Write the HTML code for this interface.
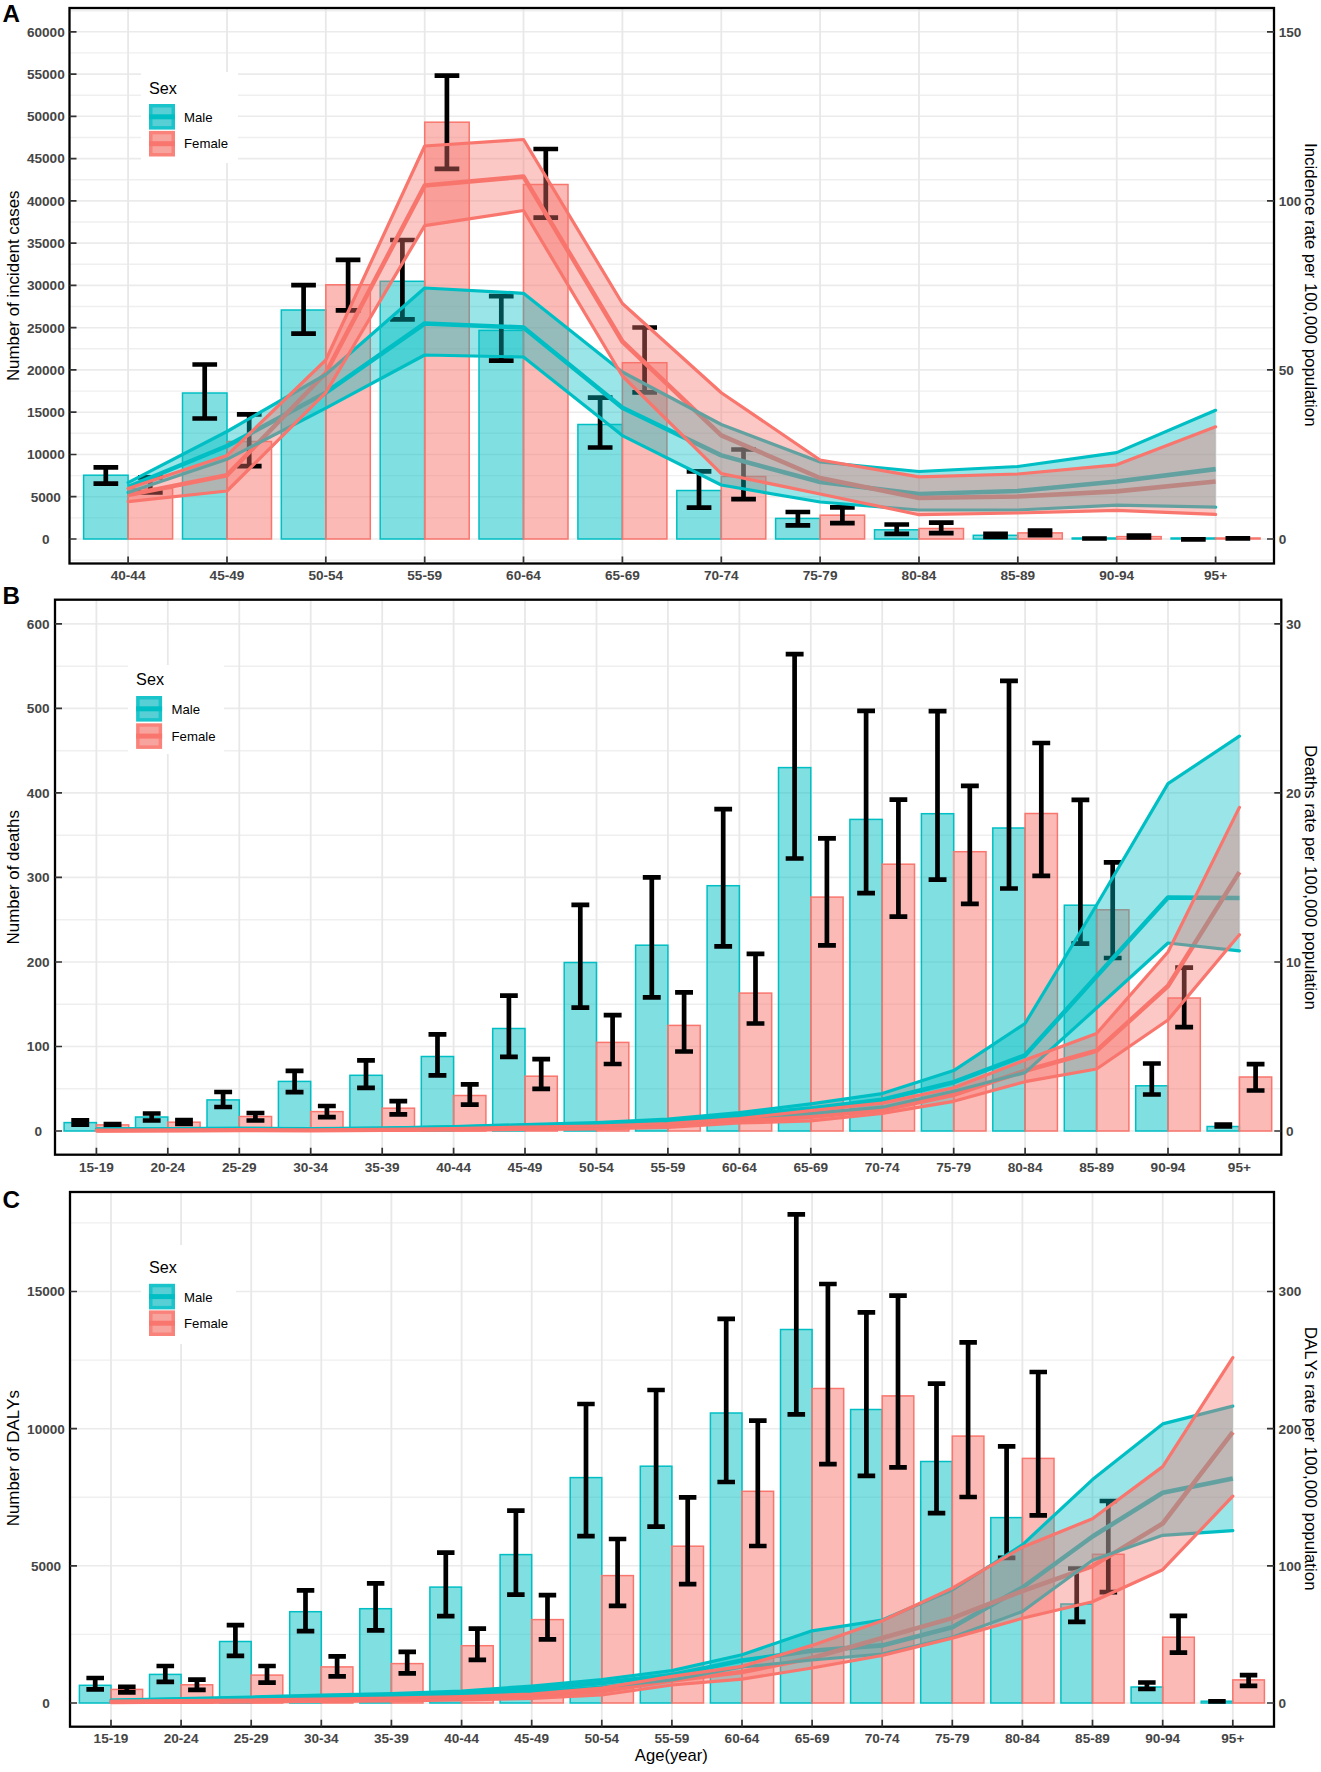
<!DOCTYPE html>
<html><head><meta charset="utf-8"><title>Figure</title>
<style>html,body{margin:0;padding:0;background:#fff;}svg{display:block;font-kerning:none;}</style></head>
<body><svg width="1321" height="1772" viewBox="0 0 1321 1772" font-family='"Liberation Sans", sans-serif'>
<rect width="1321" height="1772" fill="#fff"/>
<rect x="69.5" y="8" width="1204.5" height="555.5" fill="#fff"/>
<line x1="69.5" y1="560.1" x2="1274" y2="560.1" stroke="#efefef" stroke-width="1.4"/>
<line x1="69.5" y1="517.9" x2="1274" y2="517.9" stroke="#efefef" stroke-width="1.4"/>
<line x1="69.5" y1="475.6" x2="1274" y2="475.6" stroke="#efefef" stroke-width="1.4"/>
<line x1="69.5" y1="433.3" x2="1274" y2="433.3" stroke="#efefef" stroke-width="1.4"/>
<line x1="69.5" y1="391.1" x2="1274" y2="391.1" stroke="#efefef" stroke-width="1.4"/>
<line x1="69.5" y1="348.8" x2="1274" y2="348.8" stroke="#efefef" stroke-width="1.4"/>
<line x1="69.5" y1="306.5" x2="1274" y2="306.5" stroke="#efefef" stroke-width="1.4"/>
<line x1="69.5" y1="264.3" x2="1274" y2="264.3" stroke="#efefef" stroke-width="1.4"/>
<line x1="69.5" y1="222" x2="1274" y2="222" stroke="#efefef" stroke-width="1.4"/>
<line x1="69.5" y1="179.7" x2="1274" y2="179.7" stroke="#efefef" stroke-width="1.4"/>
<line x1="69.5" y1="137.5" x2="1274" y2="137.5" stroke="#efefef" stroke-width="1.4"/>
<line x1="69.5" y1="95.2" x2="1274" y2="95.2" stroke="#efefef" stroke-width="1.4"/>
<line x1="69.5" y1="52.9" x2="1274" y2="52.9" stroke="#efefef" stroke-width="1.4"/>
<line x1="69.5" y1="10.7" x2="1274" y2="10.7" stroke="#efefef" stroke-width="1.4"/>
<line x1="69.5" y1="539" x2="1274" y2="539" stroke="#ebebeb" stroke-width="1.6"/>
<line x1="69.5" y1="496.7" x2="1274" y2="496.7" stroke="#ebebeb" stroke-width="1.6"/>
<line x1="69.5" y1="454.5" x2="1274" y2="454.5" stroke="#ebebeb" stroke-width="1.6"/>
<line x1="69.5" y1="412.2" x2="1274" y2="412.2" stroke="#ebebeb" stroke-width="1.6"/>
<line x1="69.5" y1="369.9" x2="1274" y2="369.9" stroke="#ebebeb" stroke-width="1.6"/>
<line x1="69.5" y1="327.7" x2="1274" y2="327.7" stroke="#ebebeb" stroke-width="1.6"/>
<line x1="69.5" y1="285.4" x2="1274" y2="285.4" stroke="#ebebeb" stroke-width="1.6"/>
<line x1="69.5" y1="243.1" x2="1274" y2="243.1" stroke="#ebebeb" stroke-width="1.6"/>
<line x1="69.5" y1="200.9" x2="1274" y2="200.9" stroke="#ebebeb" stroke-width="1.6"/>
<line x1="69.5" y1="158.6" x2="1274" y2="158.6" stroke="#ebebeb" stroke-width="1.6"/>
<line x1="69.5" y1="116.3" x2="1274" y2="116.3" stroke="#ebebeb" stroke-width="1.6"/>
<line x1="69.5" y1="74.1" x2="1274" y2="74.1" stroke="#ebebeb" stroke-width="1.6"/>
<line x1="69.5" y1="31.8" x2="1274" y2="31.8" stroke="#ebebeb" stroke-width="1.6"/>
<line x1="128.1" y1="8" x2="128.1" y2="563.5" stroke="#e8e8e8" stroke-width="1.8"/>
<line x1="227" y1="8" x2="227" y2="563.5" stroke="#e8e8e8" stroke-width="1.8"/>
<line x1="325.8" y1="8" x2="325.8" y2="563.5" stroke="#e8e8e8" stroke-width="1.8"/>
<line x1="424.7" y1="8" x2="424.7" y2="563.5" stroke="#e8e8e8" stroke-width="1.8"/>
<line x1="523.5" y1="8" x2="523.5" y2="563.5" stroke="#e8e8e8" stroke-width="1.8"/>
<line x1="622.4" y1="8" x2="622.4" y2="563.5" stroke="#e8e8e8" stroke-width="1.8"/>
<line x1="721.3" y1="8" x2="721.3" y2="563.5" stroke="#e8e8e8" stroke-width="1.8"/>
<line x1="820.1" y1="8" x2="820.1" y2="563.5" stroke="#e8e8e8" stroke-width="1.8"/>
<line x1="919" y1="8" x2="919" y2="563.5" stroke="#e8e8e8" stroke-width="1.8"/>
<line x1="1017.8" y1="8" x2="1017.8" y2="563.5" stroke="#e8e8e8" stroke-width="1.8"/>
<line x1="1116.7" y1="8" x2="1116.7" y2="563.5" stroke="#e8e8e8" stroke-width="1.8"/>
<line x1="1215.6" y1="8" x2="1215.6" y2="563.5" stroke="#e8e8e8" stroke-width="1.8"/>
<rect x="83.6" y="475.2" width="44.5" height="63.8" fill="#00BFC4" fill-opacity="0.5" stroke="#00BFC4" stroke-width="1.5"/>
<rect x="128.1" y="488.5" width="44.5" height="50.5" fill="#F8766D" fill-opacity="0.5" stroke="#F8766D" stroke-width="1.5"/>
<rect x="182.5" y="393" width="44.5" height="146" fill="#00BFC4" fill-opacity="0.5" stroke="#00BFC4" stroke-width="1.5"/>
<rect x="227" y="441.5" width="44.5" height="97.5" fill="#F8766D" fill-opacity="0.5" stroke="#F8766D" stroke-width="1.5"/>
<rect x="281.3" y="310" width="44.5" height="229" fill="#00BFC4" fill-opacity="0.5" stroke="#00BFC4" stroke-width="1.5"/>
<rect x="325.8" y="284.8" width="44.5" height="254.2" fill="#F8766D" fill-opacity="0.5" stroke="#F8766D" stroke-width="1.5"/>
<rect x="380.2" y="281.3" width="44.5" height="257.7" fill="#00BFC4" fill-opacity="0.5" stroke="#00BFC4" stroke-width="1.5"/>
<rect x="424.7" y="122.2" width="44.5" height="416.8" fill="#F8766D" fill-opacity="0.5" stroke="#F8766D" stroke-width="1.5"/>
<rect x="479" y="330.4" width="44.5" height="208.6" fill="#00BFC4" fill-opacity="0.5" stroke="#00BFC4" stroke-width="1.5"/>
<rect x="523.5" y="184.5" width="44.5" height="354.5" fill="#F8766D" fill-opacity="0.5" stroke="#F8766D" stroke-width="1.5"/>
<rect x="577.9" y="424.5" width="44.5" height="114.5" fill="#00BFC4" fill-opacity="0.5" stroke="#00BFC4" stroke-width="1.5"/>
<rect x="622.4" y="362.7" width="44.5" height="176.3" fill="#F8766D" fill-opacity="0.5" stroke="#F8766D" stroke-width="1.5"/>
<rect x="676.8" y="490.5" width="44.5" height="48.5" fill="#00BFC4" fill-opacity="0.5" stroke="#00BFC4" stroke-width="1.5"/>
<rect x="721.3" y="476.5" width="44.5" height="62.5" fill="#F8766D" fill-opacity="0.5" stroke="#F8766D" stroke-width="1.5"/>
<rect x="775.6" y="518.4" width="44.5" height="20.6" fill="#00BFC4" fill-opacity="0.5" stroke="#00BFC4" stroke-width="1.5"/>
<rect x="820.1" y="515.2" width="44.5" height="23.8" fill="#F8766D" fill-opacity="0.5" stroke="#F8766D" stroke-width="1.5"/>
<rect x="874.5" y="529.8" width="44.5" height="9.2" fill="#00BFC4" fill-opacity="0.5" stroke="#00BFC4" stroke-width="1.5"/>
<rect x="919" y="528.5" width="44.5" height="10.5" fill="#F8766D" fill-opacity="0.5" stroke="#F8766D" stroke-width="1.5"/>
<rect x="973.3" y="535.3" width="44.5" height="3.7" fill="#00BFC4" fill-opacity="0.5" stroke="#00BFC4" stroke-width="1.5"/>
<rect x="1017.8" y="532.9" width="44.5" height="6.1" fill="#F8766D" fill-opacity="0.5" stroke="#F8766D" stroke-width="1.5"/>
<rect x="1072.2" y="538" width="44.5" height="1" fill="#00BFC4" fill-opacity="0.5" stroke="#00BFC4" stroke-width="1.5"/>
<rect x="1116.7" y="536.6" width="44.5" height="2.4" fill="#F8766D" fill-opacity="0.5" stroke="#F8766D" stroke-width="1.5"/>
<rect x="1171.1" y="538" width="44.5" height="1" fill="#00BFC4" fill-opacity="0.5" stroke="#00BFC4" stroke-width="1.5"/>
<rect x="1215.6" y="538" width="44.5" height="1" fill="#F8766D" fill-opacity="0.5" stroke="#F8766D" stroke-width="1.5"/>
<path d="M105.8 467.3V483.7M93.5 467.3H118.2M93.5 483.7H118.2M150.3 477.3V492.5M138 477.3H162.7M138 492.5H162.7M204.7 364.5V418.5M192.4 364.5H217.1M192.4 418.5H217.1M249.2 414.3V466.2M236.9 414.3H261.6M236.9 466.2H261.6M303.6 285.2V333.6M291.2 285.2H315.9M291.2 333.6H315.9M348.1 259.8V310.4M335.7 259.8H360.4M335.7 310.4H360.4M402.4 240V319.4M390.1 240H414.8M390.1 319.4H414.8M446.9 75.6V168.8M434.6 75.6H459.3M434.6 168.8H459.3M501.3 296.2V360.6M488.9 296.2H513.6M488.9 360.6H513.6M545.8 149V217.7M533.4 149H558.1M533.4 217.7H558.1M600.1 397.7V447.5M587.8 397.7H612.5M587.8 447.5H612.5M644.6 327.5V392.4M632.3 327.5H657M632.3 392.4H657M699 471.4V507.7M686.7 471.4H711.4M686.7 507.7H711.4M743.5 449.5V499.2M731.2 449.5H755.9M731.2 499.2H755.9M797.9 512V525.3M785.5 512H810.2M785.5 525.3H810.2M842.4 507.3V523.2M830 507.3H854.7M830 523.2H854.7M896.7 524.5V533.8M884.4 524.5H909.1M884.4 533.8H909.1M941.2 522.6V533.2M928.9 522.6H953.6M928.9 533.2H953.6M995.6 533.9V537M983.2 533.9H1007.9M983.2 537H1007.9M1040.1 530.5V535.2M1027.7 530.5H1052.4M1027.7 535.2H1052.4M1094.5 538.5V538.5M1082.1 538.5H1106.8M1082.1 538.5H1106.8M1139 535.5V537.5M1126.6 535.5H1151.3M1126.6 537.5H1151.3M1193.3 539.3V539.3M1181 539.3H1205.7M1181 539.3H1205.7M1237.8 538.3V538.3M1225.5 538.3H1250.2M1225.5 538.3H1250.2" stroke="#000" stroke-width="4.7" fill="none"/>
<polyline points="128.1,487 227,446 325.8,392.7 424.7,323.5 523.5,327.5 622.4,407.8 721.3,455.4 820.1,482 919,494 1017.8,491 1116.7,481.5 1215.6,469.1" fill="none" stroke="#00BFC4" stroke-width="4.6" stroke-linejoin="round"/>
<polyline points="128.1,495 227,475.2 325.8,373 424.7,185.5 523.5,176.6 622.4,341.5 721.3,435.4 820.1,478 919,498 1017.8,496.5 1116.7,491.4 1215.6,481.5" fill="none" stroke="#F8766D" stroke-width="4.6" stroke-linejoin="round"/>
<polygon points="128.1,482.6 227,431.5 325.8,374.5 424.7,288 523.5,293.3 622.4,372 721.3,424.5 820.1,462 919,471.5 1017.8,466.5 1116.7,452.6 1215.6,410.3 1215.6,507.1 1116.7,505.1 1017.8,510 919,510 820.1,502 721.3,485 622.4,435.6 523.5,357 424.7,355 325.8,408.2 227,459.3 128.1,492.5" fill="#00BFC4" fill-opacity="0.4" stroke="none"/>
<polyline points="128.1,482.6 227,431.5 325.8,374.5 424.7,288 523.5,293.3 622.4,372 721.3,424.5 820.1,462 919,471.5 1017.8,466.5 1116.7,452.6 1215.6,410.3" fill="none" stroke="#00BFC4" stroke-width="3.2" stroke-linejoin="round" stroke-linecap="round"/>
<polyline points="128.1,492.5 227,459.3 325.8,408.2 424.7,355 523.5,357 622.4,435.6 721.3,485 820.1,502 919,510 1017.8,510 1116.7,505.1 1215.6,507.1" fill="none" stroke="#00BFC4" stroke-width="3.2" stroke-linejoin="round" stroke-linecap="round"/>
<polygon points="128.1,488.5 227,455.4 325.8,360 424.7,146 523.5,139.5 622.4,303.5 721.3,392.7 820.1,460 919,476.8 1017.8,474 1116.7,464.8 1215.6,426.8 1215.6,514.4 1116.7,510.4 1017.8,513 919,514.7 820.1,494 721.3,473.6 622.4,376 523.5,210.5 424.7,225.6 325.8,392.7 227,491 128.1,501.7" fill="#F8766D" fill-opacity="0.4" stroke="none"/>
<polyline points="128.1,488.5 227,455.4 325.8,360 424.7,146 523.5,139.5 622.4,303.5 721.3,392.7 820.1,460 919,476.8 1017.8,474 1116.7,464.8 1215.6,426.8" fill="none" stroke="#F8766D" stroke-width="3.2" stroke-linejoin="round" stroke-linecap="round"/>
<polyline points="128.1,501.7 227,491 325.8,392.7 424.7,225.6 523.5,210.5 622.4,376 721.3,473.6 820.1,494 919,514.7 1017.8,513 1116.7,510.4 1215.6,514.4" fill="none" stroke="#F8766D" stroke-width="3.2" stroke-linejoin="round" stroke-linecap="round"/>
<rect x="141" y="72" width="97" height="91" fill="#fff"/>
<text x="149" y="93.6" font-size="16.2" fill="#000">Sex</text>
<rect x="149" y="104" width="26" height="25.6" fill="#00BFC4" opacity="0.9"/>
<rect x="152.5" y="107.5" width="19" height="18.6" fill="#58cfd5"/>
<line x1="149" y1="116.8" x2="175" y2="116.8" stroke="#00BFC4" stroke-width="5"/>
<text x="184" y="122.1" font-size="13.2" fill="#000">Male</text>
<rect x="149" y="130.9" width="26" height="25.6" fill="#F8766D" opacity="0.9"/>
<rect x="152.5" y="134.4" width="19" height="18.6" fill="#f8a49e"/>
<line x1="149" y1="143.7" x2="175" y2="143.7" stroke="#F8766D" stroke-width="5"/>
<text x="184" y="148.2" font-size="13.2" fill="#000">Female</text>
<rect x="69.5" y="8" width="1204.5" height="555.5" fill="none" stroke="#000" stroke-width="2.3"/>
<path d="M69.5 539h7M69.5 496.7h7M69.5 454.5h7M69.5 412.2h7M69.5 369.9h7M69.5 327.7h7M69.5 285.4h7M69.5 243.1h7M69.5 200.9h7M69.5 158.6h7M69.5 116.3h7M69.5 74.1h7M69.5 31.8h7M1274 539h-7M1274 369.9h-7M1274 200.9h-7M1274 31.8h-7M128.1 563.5v-7M227 563.5v-7M325.8 563.5v-7M424.7 563.5v-7M523.5 563.5v-7M622.4 563.5v-7M721.3 563.5v-7M820.1 563.5v-7M919 563.5v-7M1017.8 563.5v-7M1116.7 563.5v-7M1215.6 563.5v-7" stroke="#333333" stroke-width="1.7" fill="none"/>
<g font-size="13.6" font-weight="bold" fill="#454545"><text x="45.8" y="543.8" text-anchor="middle">0</text><text x="45.8" y="501.5" text-anchor="middle">5000</text><text x="45.8" y="459.3" text-anchor="middle">10000</text><text x="45.8" y="417" text-anchor="middle">15000</text><text x="45.8" y="374.7" text-anchor="middle">20000</text><text x="45.8" y="332.5" text-anchor="middle">25000</text><text x="45.8" y="290.2" text-anchor="middle">30000</text><text x="45.8" y="247.9" text-anchor="middle">35000</text><text x="45.8" y="205.7" text-anchor="middle">40000</text><text x="45.8" y="163.4" text-anchor="middle">45000</text><text x="45.8" y="121.1" text-anchor="middle">50000</text><text x="45.8" y="78.9" text-anchor="middle">55000</text><text x="45.8" y="36.6" text-anchor="middle">60000</text><text x="1278.7" y="543.8">0</text><text x="1278.7" y="374.7">50</text><text x="1278.7" y="205.7">100</text><text x="1278.7" y="36.6">150</text><text x="128.1" y="580.2" text-anchor="middle">40-44</text><text x="227" y="580.2" text-anchor="middle">45-49</text><text x="325.8" y="580.2" text-anchor="middle">50-54</text><text x="424.7" y="580.2" text-anchor="middle">55-59</text><text x="523.5" y="580.2" text-anchor="middle">60-64</text><text x="622.4" y="580.2" text-anchor="middle">65-69</text><text x="721.3" y="580.2" text-anchor="middle">70-74</text><text x="820.1" y="580.2" text-anchor="middle">75-79</text><text x="919" y="580.2" text-anchor="middle">80-84</text><text x="1017.8" y="580.2" text-anchor="middle">85-89</text><text x="1116.7" y="580.2" text-anchor="middle">90-94</text><text x="1215.6" y="580.2" text-anchor="middle">95+</text></g>
<text transform="translate(18.9,285.8) rotate(-90)" text-anchor="middle" font-size="16.9" fill="#000">Number of incident cases</text>
<text transform="translate(1304.9,284.8) rotate(90)" text-anchor="middle" font-size="16.9" fill="#000">Incidence rate per 100,000 population</text>
<text x="2.6" y="21.7" font-size="24.2" font-weight="bold" fill="#000">A</text>
<rect x="55" y="599.7" width="1226.3" height="555" fill="#fff"/>
<line x1="55" y1="1088.7" x2="1281.3" y2="1088.7" stroke="#efefef" stroke-width="1.4"/>
<line x1="55" y1="1004.2" x2="1281.3" y2="1004.2" stroke="#efefef" stroke-width="1.4"/>
<line x1="55" y1="919.7" x2="1281.3" y2="919.7" stroke="#efefef" stroke-width="1.4"/>
<line x1="55" y1="835.2" x2="1281.3" y2="835.2" stroke="#efefef" stroke-width="1.4"/>
<line x1="55" y1="750.7" x2="1281.3" y2="750.7" stroke="#efefef" stroke-width="1.4"/>
<line x1="55" y1="666.2" x2="1281.3" y2="666.2" stroke="#efefef" stroke-width="1.4"/>
<line x1="55" y1="1131" x2="1281.3" y2="1131" stroke="#ebebeb" stroke-width="1.6"/>
<line x1="55" y1="1046.5" x2="1281.3" y2="1046.5" stroke="#ebebeb" stroke-width="1.6"/>
<line x1="55" y1="962" x2="1281.3" y2="962" stroke="#ebebeb" stroke-width="1.6"/>
<line x1="55" y1="877.4" x2="1281.3" y2="877.4" stroke="#ebebeb" stroke-width="1.6"/>
<line x1="55" y1="792.9" x2="1281.3" y2="792.9" stroke="#ebebeb" stroke-width="1.6"/>
<line x1="55" y1="708.4" x2="1281.3" y2="708.4" stroke="#ebebeb" stroke-width="1.6"/>
<line x1="55" y1="623.9" x2="1281.3" y2="623.9" stroke="#ebebeb" stroke-width="1.6"/>
<line x1="96.4" y1="599.7" x2="96.4" y2="1154.7" stroke="#e8e8e8" stroke-width="1.8"/>
<line x1="167.8" y1="599.7" x2="167.8" y2="1154.7" stroke="#e8e8e8" stroke-width="1.8"/>
<line x1="239.3" y1="599.7" x2="239.3" y2="1154.7" stroke="#e8e8e8" stroke-width="1.8"/>
<line x1="310.7" y1="599.7" x2="310.7" y2="1154.7" stroke="#e8e8e8" stroke-width="1.8"/>
<line x1="382.2" y1="599.7" x2="382.2" y2="1154.7" stroke="#e8e8e8" stroke-width="1.8"/>
<line x1="453.6" y1="599.7" x2="453.6" y2="1154.7" stroke="#e8e8e8" stroke-width="1.8"/>
<line x1="525" y1="599.7" x2="525" y2="1154.7" stroke="#e8e8e8" stroke-width="1.8"/>
<line x1="596.5" y1="599.7" x2="596.5" y2="1154.7" stroke="#e8e8e8" stroke-width="1.8"/>
<line x1="667.9" y1="599.7" x2="667.9" y2="1154.7" stroke="#e8e8e8" stroke-width="1.8"/>
<line x1="739.4" y1="599.7" x2="739.4" y2="1154.7" stroke="#e8e8e8" stroke-width="1.8"/>
<line x1="810.8" y1="599.7" x2="810.8" y2="1154.7" stroke="#e8e8e8" stroke-width="1.8"/>
<line x1="882.2" y1="599.7" x2="882.2" y2="1154.7" stroke="#e8e8e8" stroke-width="1.8"/>
<line x1="953.7" y1="599.7" x2="953.7" y2="1154.7" stroke="#e8e8e8" stroke-width="1.8"/>
<line x1="1025.1" y1="599.7" x2="1025.1" y2="1154.7" stroke="#e8e8e8" stroke-width="1.8"/>
<line x1="1096.6" y1="599.7" x2="1096.6" y2="1154.7" stroke="#e8e8e8" stroke-width="1.8"/>
<line x1="1168" y1="599.7" x2="1168" y2="1154.7" stroke="#e8e8e8" stroke-width="1.8"/>
<line x1="1239.4" y1="599.7" x2="1239.4" y2="1154.7" stroke="#e8e8e8" stroke-width="1.8"/>
<rect x="64.1" y="1122.6" width="32.3" height="8.4" fill="#00BFC4" fill-opacity="0.5" stroke="#00BFC4" stroke-width="1.5"/>
<rect x="96.4" y="1124.9" width="32.3" height="6.1" fill="#F8766D" fill-opacity="0.5" stroke="#F8766D" stroke-width="1.5"/>
<rect x="135.5" y="1117" width="32.3" height="14" fill="#00BFC4" fill-opacity="0.5" stroke="#00BFC4" stroke-width="1.5"/>
<rect x="167.8" y="1122.2" width="32.3" height="8.8" fill="#F8766D" fill-opacity="0.5" stroke="#F8766D" stroke-width="1.5"/>
<rect x="207" y="1099.9" width="32.3" height="31.1" fill="#00BFC4" fill-opacity="0.5" stroke="#00BFC4" stroke-width="1.5"/>
<rect x="239.3" y="1116.5" width="32.3" height="14.5" fill="#F8766D" fill-opacity="0.5" stroke="#F8766D" stroke-width="1.5"/>
<rect x="278.4" y="1081.4" width="32.3" height="49.6" fill="#00BFC4" fill-opacity="0.5" stroke="#00BFC4" stroke-width="1.5"/>
<rect x="310.7" y="1111.6" width="32.3" height="19.4" fill="#F8766D" fill-opacity="0.5" stroke="#F8766D" stroke-width="1.5"/>
<rect x="349.9" y="1075.3" width="32.3" height="55.7" fill="#00BFC4" fill-opacity="0.5" stroke="#00BFC4" stroke-width="1.5"/>
<rect x="382.2" y="1108.2" width="32.3" height="22.8" fill="#F8766D" fill-opacity="0.5" stroke="#F8766D" stroke-width="1.5"/>
<rect x="421.3" y="1056.5" width="32.3" height="74.5" fill="#00BFC4" fill-opacity="0.5" stroke="#00BFC4" stroke-width="1.5"/>
<rect x="453.6" y="1095.5" width="32.3" height="35.5" fill="#F8766D" fill-opacity="0.5" stroke="#F8766D" stroke-width="1.5"/>
<rect x="492.7" y="1028.5" width="32.3" height="102.5" fill="#00BFC4" fill-opacity="0.5" stroke="#00BFC4" stroke-width="1.5"/>
<rect x="525" y="1076.2" width="32.3" height="54.8" fill="#F8766D" fill-opacity="0.5" stroke="#F8766D" stroke-width="1.5"/>
<rect x="564.2" y="962.5" width="32.3" height="168.5" fill="#00BFC4" fill-opacity="0.5" stroke="#00BFC4" stroke-width="1.5"/>
<rect x="596.5" y="1042.4" width="32.3" height="88.6" fill="#F8766D" fill-opacity="0.5" stroke="#F8766D" stroke-width="1.5"/>
<rect x="635.6" y="945.2" width="32.3" height="185.8" fill="#00BFC4" fill-opacity="0.5" stroke="#00BFC4" stroke-width="1.5"/>
<rect x="667.9" y="1025.4" width="32.3" height="105.6" fill="#F8766D" fill-opacity="0.5" stroke="#F8766D" stroke-width="1.5"/>
<rect x="707.1" y="885.7" width="32.3" height="245.3" fill="#00BFC4" fill-opacity="0.5" stroke="#00BFC4" stroke-width="1.5"/>
<rect x="739.4" y="993.1" width="32.3" height="137.9" fill="#F8766D" fill-opacity="0.5" stroke="#F8766D" stroke-width="1.5"/>
<rect x="778.5" y="767.6" width="32.3" height="363.4" fill="#00BFC4" fill-opacity="0.5" stroke="#00BFC4" stroke-width="1.5"/>
<rect x="810.8" y="897.1" width="32.3" height="233.9" fill="#F8766D" fill-opacity="0.5" stroke="#F8766D" stroke-width="1.5"/>
<rect x="849.9" y="819.4" width="32.3" height="311.6" fill="#00BFC4" fill-opacity="0.5" stroke="#00BFC4" stroke-width="1.5"/>
<rect x="882.2" y="864.2" width="32.3" height="266.8" fill="#F8766D" fill-opacity="0.5" stroke="#F8766D" stroke-width="1.5"/>
<rect x="921.4" y="813.7" width="32.3" height="317.3" fill="#00BFC4" fill-opacity="0.5" stroke="#00BFC4" stroke-width="1.5"/>
<rect x="953.7" y="851.7" width="32.3" height="279.3" fill="#F8766D" fill-opacity="0.5" stroke="#F8766D" stroke-width="1.5"/>
<rect x="992.8" y="828" width="32.3" height="303" fill="#00BFC4" fill-opacity="0.5" stroke="#00BFC4" stroke-width="1.5"/>
<rect x="1025.1" y="813.5" width="32.3" height="317.5" fill="#F8766D" fill-opacity="0.5" stroke="#F8766D" stroke-width="1.5"/>
<rect x="1064.3" y="905.2" width="32.3" height="225.8" fill="#00BFC4" fill-opacity="0.5" stroke="#00BFC4" stroke-width="1.5"/>
<rect x="1096.6" y="909.8" width="32.3" height="221.2" fill="#F8766D" fill-opacity="0.5" stroke="#F8766D" stroke-width="1.5"/>
<rect x="1135.7" y="1085.8" width="32.3" height="45.2" fill="#00BFC4" fill-opacity="0.5" stroke="#00BFC4" stroke-width="1.5"/>
<rect x="1168" y="998" width="32.3" height="133" fill="#F8766D" fill-opacity="0.5" stroke="#F8766D" stroke-width="1.5"/>
<rect x="1207.1" y="1126.5" width="32.3" height="4.5" fill="#00BFC4" fill-opacity="0.5" stroke="#00BFC4" stroke-width="1.5"/>
<rect x="1239.4" y="1077" width="32.3" height="54" fill="#F8766D" fill-opacity="0.5" stroke="#F8766D" stroke-width="1.5"/>
<path d="M80.2 1120.3V1124.7M71.3 1120.3H89.2M71.3 1124.7H89.2M112.6 1124V1125.6M103.6 1124H121.5M103.6 1125.6H121.5M151.7 1113.5V1120.5M142.8 1113.5H160.6M142.8 1120.5H160.6M184 1120.1V1124M175.1 1120.1H192.9M175.1 1124H192.9M223.1 1092V1107M214.2 1092H232.1M214.2 1107H232.1M255.4 1113V1120.5M246.5 1113H264.4M246.5 1120.5H264.4M294.6 1070.8V1092.1M285.6 1070.8H303.5M285.6 1092.1H303.5M326.9 1106V1117.1M317.9 1106H335.8M317.9 1117.1H335.8M366 1060.3V1087.8M357.1 1060.3H374.9M357.1 1087.8H374.9M398.3 1101.2V1114.4M389.4 1101.2H407.2M389.4 1114.4H407.2M437.5 1034.4V1075.3M428.5 1034.4H446.4M428.5 1075.3H446.4M469.8 1084.4V1104.6M460.8 1084.4H478.7M460.8 1104.6H478.7M508.9 995.6V1056.9M500 995.6H517.8M500 1056.9H517.8M541.2 1059.2V1088.9M532.3 1059.2H550.1M532.3 1088.9H550.1M580.3 904.8V1007.6M571.4 904.8H589.3M571.4 1007.6H589.3M612.6 1015.1V1064M603.7 1015.1H621.6M603.7 1064H621.6M651.8 877.3V997.4M642.8 877.3H660.7M642.8 997.4H660.7M684.1 992.4V1051.5M675.1 992.4H693M675.1 1051.5H693M723.2 809.2V946.3M714.3 809.2H732.1M714.3 946.3H732.1M755.5 953.8V1023.5M746.6 953.8H764.4M746.6 1023.5H764.4M794.6 654.1V858.5M785.7 654.1H803.6M785.7 858.5H803.6M826.9 838.3V945.4M818 838.3H835.9M818 945.4H835.9M866.1 710.9V893.2M857.2 710.9H875M857.2 893.2H875M898.4 799.7V916.6M889.5 799.7H907.3M889.5 916.6H907.3M937.5 711.1V879.6M928.6 711.1H946.5M928.6 879.6H946.5M969.8 785.8V903.9M960.9 785.8H978.8M960.9 903.9H978.8M1009 680.9V888.5M1000 680.9H1017.9M1000 888.5H1017.9M1041.3 743V875.8M1032.3 743H1050.2M1032.3 875.8H1050.2M1080.4 799.8V943.7M1071.5 799.8H1089.3M1071.5 943.7H1089.3M1112.7 862.4V958M1103.8 862.4H1121.6M1103.8 958H1121.6M1151.8 1063.5V1094.5M1142.9 1063.5H1160.8M1142.9 1094.5H1160.8M1184.2 967.6V1027.1M1175.2 967.6H1193.1M1175.2 1027.1H1193.1M1223.3 1124.5V1126.5M1214.4 1124.5H1232.2M1214.4 1126.5H1232.2M1255.6 1064.1V1090.5M1246.7 1064.1H1264.5M1246.7 1090.5H1264.5" stroke="#000" stroke-width="4.7" fill="none"/>
<polyline points="96.4,1129.5 167.8,1129.3 239.3,1129 310.7,1129.4 382.2,1128.8 453.6,1127.5 525,1126 596.5,1124.5 667.9,1121 739.4,1115 810.8,1108.6 882.2,1099.7 953.7,1082.2 1025.1,1055.3 1096.6,976.3 1168,897.5 1239.4,898" fill="none" stroke="#00BFC4" stroke-width="4.6" stroke-linejoin="round"/>
<polyline points="96.4,1130.4 167.8,1130.2 239.3,1130 310.7,1130.2 382.2,1129.8 453.6,1129.3 525,1128.5 596.5,1127.8 667.9,1125.5 739.4,1121 810.8,1116.8 882.2,1110 953.7,1094.7 1025.1,1070.8 1096.6,1050.8 1168,986 1239.4,872.1" fill="none" stroke="#F8766D" stroke-width="4.6" stroke-linejoin="round"/>
<polygon points="96.4,1129 167.8,1128.7 239.3,1128.3 310.7,1128.8 382.2,1128 453.6,1126.5 525,1124.5 596.5,1122.5 667.9,1119 739.4,1112.5 810.8,1103.8 882.2,1093.6 953.7,1070.6 1025.1,1023.5 1096.6,905 1168,783.6 1239.4,736.2 1239.4,950.9 1168,943 1096.6,1008 1025.1,1072.6 953.7,1091.3 882.2,1107.2 810.8,1113.4 739.4,1117.5 667.9,1123 596.5,1126 525,1127 453.6,1128.5 382.2,1129.5 310.7,1130 239.3,1129.6 167.8,1129.8 96.4,1130" fill="#00BFC4" fill-opacity="0.4" stroke="none"/>
<polyline points="96.4,1129 167.8,1128.7 239.3,1128.3 310.7,1128.8 382.2,1128 453.6,1126.5 525,1124.5 596.5,1122.5 667.9,1119 739.4,1112.5 810.8,1103.8 882.2,1093.6 953.7,1070.6 1025.1,1023.5 1096.6,905 1168,783.6 1239.4,736.2" fill="none" stroke="#00BFC4" stroke-width="3.2" stroke-linejoin="round" stroke-linecap="round"/>
<polyline points="96.4,1130 167.8,1129.8 239.3,1129.6 310.7,1130 382.2,1129.5 453.6,1128.5 525,1127 596.5,1126 667.9,1123 739.4,1117.5 810.8,1113.4 882.2,1107.2 953.7,1091.3 1025.1,1072.6 1096.6,1008 1168,943 1239.4,950.9" fill="none" stroke="#00BFC4" stroke-width="3.2" stroke-linejoin="round" stroke-linecap="round"/>
<polygon points="96.4,1130 167.8,1129.8 239.3,1129.6 310.7,1129.8 382.2,1129.3 453.6,1128.5 525,1127 596.5,1126 667.9,1123.5 739.4,1118.5 810.8,1110.6 882.2,1103.1 953.7,1087.8 1025.1,1059.9 1096.6,1033.5 1168,952 1239.4,807.4 1239.4,934.7 1168,1020 1096.6,1069 1025.1,1081.7 953.7,1101.3 882.2,1113.4 810.8,1120.9 739.4,1123 667.9,1127.5 596.5,1129 525,1129.5 453.6,1130 382.2,1130.3 310.7,1130.5 239.3,1130.5 167.8,1130.6 96.4,1130.8" fill="#F8766D" fill-opacity="0.4" stroke="none"/>
<polyline points="96.4,1130 167.8,1129.8 239.3,1129.6 310.7,1129.8 382.2,1129.3 453.6,1128.5 525,1127 596.5,1126 667.9,1123.5 739.4,1118.5 810.8,1110.6 882.2,1103.1 953.7,1087.8 1025.1,1059.9 1096.6,1033.5 1168,952 1239.4,807.4" fill="none" stroke="#F8766D" stroke-width="3.2" stroke-linejoin="round" stroke-linecap="round"/>
<polyline points="96.4,1130.8 167.8,1130.6 239.3,1130.5 310.7,1130.5 382.2,1130.3 453.6,1130 525,1129.5 596.5,1129 667.9,1127.5 739.4,1123 810.8,1120.9 882.2,1113.4 953.7,1101.3 1025.1,1081.7 1096.6,1069 1168,1020 1239.4,934.7" fill="none" stroke="#F8766D" stroke-width="3.2" stroke-linejoin="round" stroke-linecap="round"/>
<rect x="128" y="665" width="96" height="89" fill="#fff"/>
<text x="136.1" y="685.4" font-size="16.2" fill="#000">Sex</text>
<rect x="136.1" y="696" width="26" height="25.6" fill="#00BFC4" opacity="0.9"/>
<rect x="139.6" y="699.5" width="19" height="18.6" fill="#58cfd5"/>
<line x1="136.1" y1="708.8" x2="162.1" y2="708.8" stroke="#00BFC4" stroke-width="5"/>
<text x="171.5" y="714.1" font-size="13.2" fill="#000">Male</text>
<rect x="136.1" y="723.3" width="26" height="25.6" fill="#F8766D" opacity="0.9"/>
<rect x="139.6" y="726.8" width="19" height="18.6" fill="#f8a49e"/>
<line x1="136.1" y1="736.1" x2="162.1" y2="736.1" stroke="#F8766D" stroke-width="5"/>
<text x="171.5" y="740.6" font-size="13.2" fill="#000">Female</text>
<rect x="55" y="599.7" width="1226.3" height="555" fill="none" stroke="#000" stroke-width="2.3"/>
<path d="M55 1131h7M55 1046.5h7M55 962h7M55 877.4h7M55 792.9h7M55 708.4h7M55 623.9h7M1281.3 1131h-7M1281.3 962h-7M1281.3 792.9h-7M1281.3 623.9h-7M96.4 1154.7v-7M167.8 1154.7v-7M239.3 1154.7v-7M310.7 1154.7v-7M382.2 1154.7v-7M453.6 1154.7v-7M525 1154.7v-7M596.5 1154.7v-7M667.9 1154.7v-7M739.4 1154.7v-7M810.8 1154.7v-7M882.2 1154.7v-7M953.7 1154.7v-7M1025.1 1154.7v-7M1096.6 1154.7v-7M1168 1154.7v-7M1239.4 1154.7v-7" stroke="#333333" stroke-width="1.7" fill="none"/>
<g font-size="13.6" font-weight="bold" fill="#454545"><text x="38.2" y="1135.8" text-anchor="middle">0</text><text x="38.2" y="1051.3" text-anchor="middle">100</text><text x="38.2" y="966.8" text-anchor="middle">200</text><text x="38.2" y="882.2" text-anchor="middle">300</text><text x="38.2" y="797.7" text-anchor="middle">400</text><text x="38.2" y="713.2" text-anchor="middle">500</text><text x="38.2" y="628.7" text-anchor="middle">600</text><text x="1286" y="1135.8">0</text><text x="1286" y="966.8">10</text><text x="1286" y="797.7">20</text><text x="1286" y="628.7">30</text><text x="96.4" y="1171.6" text-anchor="middle">15-19</text><text x="167.8" y="1171.6" text-anchor="middle">20-24</text><text x="239.3" y="1171.6" text-anchor="middle">25-29</text><text x="310.7" y="1171.6" text-anchor="middle">30-34</text><text x="382.2" y="1171.6" text-anchor="middle">35-39</text><text x="453.6" y="1171.6" text-anchor="middle">40-44</text><text x="525" y="1171.6" text-anchor="middle">45-49</text><text x="596.5" y="1171.6" text-anchor="middle">50-54</text><text x="667.9" y="1171.6" text-anchor="middle">55-59</text><text x="739.4" y="1171.6" text-anchor="middle">60-64</text><text x="810.8" y="1171.6" text-anchor="middle">65-69</text><text x="882.2" y="1171.6" text-anchor="middle">70-74</text><text x="953.7" y="1171.6" text-anchor="middle">75-79</text><text x="1025.1" y="1171.6" text-anchor="middle">80-84</text><text x="1096.6" y="1171.6" text-anchor="middle">85-89</text><text x="1168" y="1171.6" text-anchor="middle">90-94</text><text x="1239.4" y="1171.6" text-anchor="middle">95+</text></g>
<text transform="translate(18.9,877.3) rotate(-90)" text-anchor="middle" font-size="16.9" fill="#000">Number of deaths</text>
<text transform="translate(1304.9,877.4) rotate(90)" text-anchor="middle" font-size="16.9" fill="#000">Deaths rate per 100,000 population</text>
<text x="2.6" y="604.2" font-size="24.2" font-weight="bold" fill="#000">B</text>
<rect x="70" y="1192" width="1204" height="534.7" fill="#fff"/>
<line x1="70" y1="1634.4" x2="1274" y2="1634.4" stroke="#efefef" stroke-width="1.4"/>
<line x1="70" y1="1497.2" x2="1274" y2="1497.2" stroke="#efefef" stroke-width="1.4"/>
<line x1="70" y1="1360.1" x2="1274" y2="1360.1" stroke="#efefef" stroke-width="1.4"/>
<line x1="70" y1="1222.9" x2="1274" y2="1222.9" stroke="#efefef" stroke-width="1.4"/>
<line x1="70" y1="1703" x2="1274" y2="1703" stroke="#ebebeb" stroke-width="1.6"/>
<line x1="70" y1="1565.8" x2="1274" y2="1565.8" stroke="#ebebeb" stroke-width="1.6"/>
<line x1="70" y1="1428.7" x2="1274" y2="1428.7" stroke="#ebebeb" stroke-width="1.6"/>
<line x1="70" y1="1291.5" x2="1274" y2="1291.5" stroke="#ebebeb" stroke-width="1.6"/>
<line x1="111" y1="1192" x2="111" y2="1726.7" stroke="#e8e8e8" stroke-width="1.8"/>
<line x1="181.1" y1="1192" x2="181.1" y2="1726.7" stroke="#e8e8e8" stroke-width="1.8"/>
<line x1="251.2" y1="1192" x2="251.2" y2="1726.7" stroke="#e8e8e8" stroke-width="1.8"/>
<line x1="321.3" y1="1192" x2="321.3" y2="1726.7" stroke="#e8e8e8" stroke-width="1.8"/>
<line x1="391.4" y1="1192" x2="391.4" y2="1726.7" stroke="#e8e8e8" stroke-width="1.8"/>
<line x1="461.6" y1="1192" x2="461.6" y2="1726.7" stroke="#e8e8e8" stroke-width="1.8"/>
<line x1="531.7" y1="1192" x2="531.7" y2="1726.7" stroke="#e8e8e8" stroke-width="1.8"/>
<line x1="601.8" y1="1192" x2="601.8" y2="1726.7" stroke="#e8e8e8" stroke-width="1.8"/>
<line x1="671.9" y1="1192" x2="671.9" y2="1726.7" stroke="#e8e8e8" stroke-width="1.8"/>
<line x1="742" y1="1192" x2="742" y2="1726.7" stroke="#e8e8e8" stroke-width="1.8"/>
<line x1="812.1" y1="1192" x2="812.1" y2="1726.7" stroke="#e8e8e8" stroke-width="1.8"/>
<line x1="882.2" y1="1192" x2="882.2" y2="1726.7" stroke="#e8e8e8" stroke-width="1.8"/>
<line x1="952.3" y1="1192" x2="952.3" y2="1726.7" stroke="#e8e8e8" stroke-width="1.8"/>
<line x1="1022.4" y1="1192" x2="1022.4" y2="1726.7" stroke="#e8e8e8" stroke-width="1.8"/>
<line x1="1092.5" y1="1192" x2="1092.5" y2="1726.7" stroke="#e8e8e8" stroke-width="1.8"/>
<line x1="1162.7" y1="1192" x2="1162.7" y2="1726.7" stroke="#e8e8e8" stroke-width="1.8"/>
<line x1="1232.8" y1="1192" x2="1232.8" y2="1726.7" stroke="#e8e8e8" stroke-width="1.8"/>
<rect x="79.4" y="1685.3" width="31.6" height="17.7" fill="#00BFC4" fill-opacity="0.5" stroke="#00BFC4" stroke-width="1.5"/>
<rect x="111" y="1689.4" width="31.6" height="13.6" fill="#F8766D" fill-opacity="0.5" stroke="#F8766D" stroke-width="1.5"/>
<rect x="149.5" y="1674.4" width="31.6" height="28.6" fill="#00BFC4" fill-opacity="0.5" stroke="#00BFC4" stroke-width="1.5"/>
<rect x="181.1" y="1684.8" width="31.6" height="18.2" fill="#F8766D" fill-opacity="0.5" stroke="#F8766D" stroke-width="1.5"/>
<rect x="219.6" y="1641.5" width="31.6" height="61.5" fill="#00BFC4" fill-opacity="0.5" stroke="#00BFC4" stroke-width="1.5"/>
<rect x="251.2" y="1675.1" width="31.6" height="27.9" fill="#F8766D" fill-opacity="0.5" stroke="#F8766D" stroke-width="1.5"/>
<rect x="289.7" y="1611.7" width="31.6" height="91.3" fill="#00BFC4" fill-opacity="0.5" stroke="#00BFC4" stroke-width="1.5"/>
<rect x="321.3" y="1666.9" width="31.6" height="36.1" fill="#F8766D" fill-opacity="0.5" stroke="#F8766D" stroke-width="1.5"/>
<rect x="359.8" y="1608.7" width="31.6" height="94.3" fill="#00BFC4" fill-opacity="0.5" stroke="#00BFC4" stroke-width="1.5"/>
<rect x="391.4" y="1663.6" width="31.6" height="39.4" fill="#F8766D" fill-opacity="0.5" stroke="#F8766D" stroke-width="1.5"/>
<rect x="429.9" y="1587.1" width="31.6" height="115.9" fill="#00BFC4" fill-opacity="0.5" stroke="#00BFC4" stroke-width="1.5"/>
<rect x="461.6" y="1645.7" width="31.6" height="57.3" fill="#F8766D" fill-opacity="0.5" stroke="#F8766D" stroke-width="1.5"/>
<rect x="500.1" y="1554.6" width="31.6" height="148.4" fill="#00BFC4" fill-opacity="0.5" stroke="#00BFC4" stroke-width="1.5"/>
<rect x="531.7" y="1619.6" width="31.6" height="83.4" fill="#F8766D" fill-opacity="0.5" stroke="#F8766D" stroke-width="1.5"/>
<rect x="570.2" y="1477.6" width="31.6" height="225.4" fill="#00BFC4" fill-opacity="0.5" stroke="#00BFC4" stroke-width="1.5"/>
<rect x="601.8" y="1575.6" width="31.6" height="127.4" fill="#F8766D" fill-opacity="0.5" stroke="#F8766D" stroke-width="1.5"/>
<rect x="640.3" y="1466.2" width="31.6" height="236.8" fill="#00BFC4" fill-opacity="0.5" stroke="#00BFC4" stroke-width="1.5"/>
<rect x="671.9" y="1546.2" width="31.6" height="156.8" fill="#F8766D" fill-opacity="0.5" stroke="#F8766D" stroke-width="1.5"/>
<rect x="710.4" y="1413" width="31.6" height="290" fill="#00BFC4" fill-opacity="0.5" stroke="#00BFC4" stroke-width="1.5"/>
<rect x="742" y="1491.3" width="31.6" height="211.7" fill="#F8766D" fill-opacity="0.5" stroke="#F8766D" stroke-width="1.5"/>
<rect x="780.5" y="1329.5" width="31.6" height="373.5" fill="#00BFC4" fill-opacity="0.5" stroke="#00BFC4" stroke-width="1.5"/>
<rect x="812.1" y="1388.5" width="31.6" height="314.5" fill="#F8766D" fill-opacity="0.5" stroke="#F8766D" stroke-width="1.5"/>
<rect x="850.6" y="1409.5" width="31.6" height="293.5" fill="#00BFC4" fill-opacity="0.5" stroke="#00BFC4" stroke-width="1.5"/>
<rect x="882.2" y="1395.9" width="31.6" height="307.1" fill="#F8766D" fill-opacity="0.5" stroke="#F8766D" stroke-width="1.5"/>
<rect x="920.7" y="1461.5" width="31.6" height="241.5" fill="#00BFC4" fill-opacity="0.5" stroke="#00BFC4" stroke-width="1.5"/>
<rect x="952.3" y="1436.1" width="31.6" height="266.9" fill="#F8766D" fill-opacity="0.5" stroke="#F8766D" stroke-width="1.5"/>
<rect x="990.8" y="1517.6" width="31.6" height="185.4" fill="#00BFC4" fill-opacity="0.5" stroke="#00BFC4" stroke-width="1.5"/>
<rect x="1022.4" y="1458.4" width="31.6" height="244.6" fill="#F8766D" fill-opacity="0.5" stroke="#F8766D" stroke-width="1.5"/>
<rect x="1060.9" y="1604" width="31.6" height="99" fill="#00BFC4" fill-opacity="0.5" stroke="#00BFC4" stroke-width="1.5"/>
<rect x="1092.5" y="1554.3" width="31.6" height="148.7" fill="#F8766D" fill-opacity="0.5" stroke="#F8766D" stroke-width="1.5"/>
<rect x="1131.1" y="1687" width="31.6" height="16" fill="#00BFC4" fill-opacity="0.5" stroke="#00BFC4" stroke-width="1.5"/>
<rect x="1162.7" y="1637.2" width="31.6" height="65.8" fill="#F8766D" fill-opacity="0.5" stroke="#F8766D" stroke-width="1.5"/>
<rect x="1201.2" y="1701.2" width="31.6" height="1.8" fill="#00BFC4" fill-opacity="0.5" stroke="#00BFC4" stroke-width="1.5"/>
<rect x="1232.8" y="1679.9" width="31.6" height="23.1" fill="#F8766D" fill-opacity="0.5" stroke="#F8766D" stroke-width="1.5"/>
<path d="M95.2 1678V1689.4M86.4 1678H104M86.4 1689.4H104M126.8 1686.8V1692.3M118 1686.8H135.6M118 1692.3H135.6M165.3 1666V1681.9M156.5 1666H174.1M156.5 1681.9H174.1M196.9 1679.6V1689.8M188.1 1679.6H205.7M188.1 1689.8H205.7M235.4 1625.1V1655.8M226.7 1625.1H244.2M226.7 1655.8H244.2M267 1666V1682.6M258.3 1666H275.8M258.3 1682.6H275.8M305.5 1590.4V1631.2M296.8 1590.4H314.3M296.8 1631.2H314.3M337.1 1656.4V1676.4M328.4 1656.4H345.9M328.4 1676.4H345.9M375.6 1583.4V1630.3M366.9 1583.4H384.4M366.9 1630.3H384.4M407.2 1651.8V1673.4M398.5 1651.8H416M398.5 1673.4H416M445.8 1552.6V1616.2M437 1552.6H454.5M437 1616.2H454.5M477.4 1628.7V1659.8M468.6 1628.7H486.1M468.6 1659.8H486.1M515.9 1510.6V1594.6M507.1 1510.6H524.6M507.1 1594.6H524.6M547.5 1595.1V1639.4M538.7 1595.1H556.2M538.7 1639.4H556.2M586 1404V1536.1M577.2 1404H594.7M577.2 1536.1H594.7M617.6 1539V1605.8M608.8 1539H626.3M608.8 1605.8H626.3M656.1 1390V1526.7M647.3 1390H664.8M647.3 1526.7H664.8M687.7 1497.3V1584.2M678.9 1497.3H696.4M678.9 1584.2H696.4M726.2 1318.9V1482M717.4 1318.9H735M717.4 1482H735M757.8 1420.7V1546M749 1420.7H766.6M749 1546H766.6M796.3 1214.4V1414.4M787.5 1214.4H805.1M787.5 1414.4H805.1M827.9 1284V1464.2M819.1 1284H836.7M819.1 1464.2H836.7M866.4 1312.4V1475.8M857.6 1312.4H875.2M857.6 1475.8H875.2M898 1295.6V1467.4M889.2 1295.6H906.8M889.2 1467.4H906.8M936.5 1383.6V1513.1M927.8 1383.6H945.3M927.8 1513.1H945.3M968.1 1342.4V1497M959.4 1342.4H976.9M959.4 1497H976.9M1006.6 1446.3V1557.8M997.9 1446.3H1015.4M997.9 1557.8H1015.4M1038.2 1372V1515.4M1029.5 1372H1047M1029.5 1515.4H1047M1076.7 1568.5V1621.8M1068 1568.5H1085.5M1068 1621.8H1085.5M1108.3 1501V1592.2M1099.6 1501H1117.1M1099.6 1592.2H1117.1M1146.9 1682.5V1689M1138.1 1682.5H1155.6M1138.1 1689H1155.6M1178.5 1615.9V1652.6M1169.7 1615.9H1187.2M1169.7 1652.6H1187.2M1217 1701.3V1701.3M1208.2 1701.3H1225.7M1208.2 1701.3H1225.7M1248.6 1675.2V1685.8M1239.8 1675.2H1257.3M1239.8 1685.8H1257.3" stroke="#000" stroke-width="4.7" fill="none"/>
<polyline points="111,1701 181.1,1699.8 251.2,1698.5 321.3,1697 391.4,1695.5 461.6,1693.5 531.7,1689 601.8,1683 671.9,1675 742,1660.5 812.1,1650.8 882.2,1645.4 952.3,1627.3 1022.4,1587.5 1092.5,1536.5 1162.7,1492.7 1232.8,1478.4" fill="none" stroke="#00BFC4" stroke-width="4.6" stroke-linejoin="round"/>
<polyline points="111,1702 181.1,1701.5 251.2,1701 321.3,1700.3 391.4,1699.5 461.6,1698.2 531.7,1696 601.8,1691.3 671.9,1680.5 742,1672 812.1,1658 882.2,1638 952.3,1618.1 1022.4,1591 1092.5,1566.1 1162.7,1523.5 1232.8,1432.2" fill="none" stroke="#F8766D" stroke-width="4.6" stroke-linejoin="round"/>
<polygon points="111,1700 181.1,1698.5 251.2,1697 321.3,1695 391.4,1693.5 461.6,1691 531.7,1686 601.8,1679.5 671.9,1670.6 742,1654.7 812.1,1630.8 882.2,1620 952.3,1590 1022.4,1544.8 1092.5,1479.6 1162.7,1423.9 1232.8,1406.1 1232.8,1530.6 1162.7,1535.3 1092.5,1560.2 1022.4,1611.5 952.3,1637.3 882.2,1654 812.1,1660 742,1667 671.9,1680 601.8,1687 531.7,1692 461.6,1696 391.4,1698 321.3,1699 251.2,1700 181.1,1701 111,1702" fill="#00BFC4" fill-opacity="0.4" stroke="none"/>
<polyline points="111,1700 181.1,1698.5 251.2,1697 321.3,1695 391.4,1693.5 461.6,1691 531.7,1686 601.8,1679.5 671.9,1670.6 742,1654.7 812.1,1630.8 882.2,1620 952.3,1590 1022.4,1544.8 1092.5,1479.6 1162.7,1423.9 1232.8,1406.1" fill="none" stroke="#00BFC4" stroke-width="3.2" stroke-linejoin="round" stroke-linecap="round"/>
<polyline points="111,1702 181.1,1701 251.2,1700 321.3,1699 391.4,1698 461.6,1696 531.7,1692 601.8,1687 671.9,1680 742,1667 812.1,1660 882.2,1654 952.3,1637.3 1022.4,1611.5 1092.5,1560.2 1162.7,1535.3 1232.8,1530.6" fill="none" stroke="#00BFC4" stroke-width="3.2" stroke-linejoin="round" stroke-linecap="round"/>
<polygon points="111,1701 181.1,1700.5 251.2,1700 321.3,1699 391.4,1698 461.6,1696.5 531.7,1694 601.8,1688 671.9,1676.3 742,1666.3 812.1,1645.4 882.2,1620.8 952.3,1588.1 1022.4,1547.2 1092.5,1518.7 1162.7,1466.6 1232.8,1357.6 1232.8,1496.2 1162.7,1569.7 1092.5,1601.7 1022.4,1618.3 952.3,1638.1 882.2,1655.5 812.1,1668 742,1679.2 671.9,1685 601.8,1695 531.7,1698.5 461.6,1700 391.4,1701 321.3,1701.5 251.2,1702 181.1,1702.5 111,1702.5" fill="#F8766D" fill-opacity="0.4" stroke="none"/>
<polyline points="111,1701 181.1,1700.5 251.2,1700 321.3,1699 391.4,1698 461.6,1696.5 531.7,1694 601.8,1688 671.9,1676.3 742,1666.3 812.1,1645.4 882.2,1620.8 952.3,1588.1 1022.4,1547.2 1092.5,1518.7 1162.7,1466.6 1232.8,1357.6" fill="none" stroke="#F8766D" stroke-width="3.2" stroke-linejoin="round" stroke-linecap="round"/>
<polyline points="111,1702.5 181.1,1702.5 251.2,1702 321.3,1701.5 391.4,1701 461.6,1700 531.7,1698.5 601.8,1695 671.9,1685 742,1679.2 812.1,1668 882.2,1655.5 952.3,1638.1 1022.4,1618.3 1092.5,1601.7 1162.7,1569.7 1232.8,1496.2" fill="none" stroke="#F8766D" stroke-width="3.2" stroke-linejoin="round" stroke-linecap="round"/>
<rect x="141" y="1245" width="95" height="99" fill="#fff"/>
<text x="149" y="1273" font-size="16.2" fill="#000">Sex</text>
<rect x="149" y="1283.8" width="26" height="25.6" fill="#00BFC4" opacity="0.9"/>
<rect x="152.5" y="1287.3" width="19" height="18.6" fill="#58cfd5"/>
<line x1="149" y1="1296.6" x2="175" y2="1296.6" stroke="#00BFC4" stroke-width="5"/>
<text x="184" y="1301.9" font-size="13.2" fill="#000">Male</text>
<rect x="149" y="1310.4" width="26" height="25.6" fill="#F8766D" opacity="0.9"/>
<rect x="152.5" y="1313.9" width="19" height="18.6" fill="#f8a49e"/>
<line x1="149" y1="1323.2" x2="175" y2="1323.2" stroke="#F8766D" stroke-width="5"/>
<text x="184" y="1327.7" font-size="13.2" fill="#000">Female</text>
<rect x="70" y="1192" width="1204" height="534.7" fill="none" stroke="#000" stroke-width="2.3"/>
<path d="M70 1703h7M70 1565.8h7M70 1428.7h7M70 1291.5h7M1274 1703h-7M1274 1565.8h-7M1274 1428.7h-7M1274 1291.5h-7M111 1726.7v-7M181.1 1726.7v-7M251.2 1726.7v-7M321.3 1726.7v-7M391.4 1726.7v-7M461.6 1726.7v-7M531.7 1726.7v-7M601.8 1726.7v-7M671.9 1726.7v-7M742 1726.7v-7M812.1 1726.7v-7M882.2 1726.7v-7M952.3 1726.7v-7M1022.4 1726.7v-7M1092.5 1726.7v-7M1162.7 1726.7v-7M1232.8 1726.7v-7" stroke="#333333" stroke-width="1.7" fill="none"/>
<g font-size="13.6" font-weight="bold" fill="#454545"><text x="46" y="1707.8" text-anchor="middle">0</text><text x="46" y="1570.6" text-anchor="middle">5000</text><text x="46" y="1433.5" text-anchor="middle">10000</text><text x="46" y="1296.3" text-anchor="middle">15000</text><text x="1278.6" y="1707.8">0</text><text x="1278.6" y="1570.6">100</text><text x="1278.6" y="1433.5">200</text><text x="1278.6" y="1296.3">300</text><text x="111" y="1743" text-anchor="middle">15-19</text><text x="181.1" y="1743" text-anchor="middle">20-24</text><text x="251.2" y="1743" text-anchor="middle">25-29</text><text x="321.3" y="1743" text-anchor="middle">30-34</text><text x="391.4" y="1743" text-anchor="middle">35-39</text><text x="461.6" y="1743" text-anchor="middle">40-44</text><text x="531.7" y="1743" text-anchor="middle">45-49</text><text x="601.8" y="1743" text-anchor="middle">50-54</text><text x="671.9" y="1743" text-anchor="middle">55-59</text><text x="742" y="1743" text-anchor="middle">60-64</text><text x="812.1" y="1743" text-anchor="middle">65-69</text><text x="882.2" y="1743" text-anchor="middle">70-74</text><text x="952.3" y="1743" text-anchor="middle">75-79</text><text x="1022.4" y="1743" text-anchor="middle">80-84</text><text x="1092.5" y="1743" text-anchor="middle">85-89</text><text x="1162.7" y="1743" text-anchor="middle">90-94</text><text x="1232.8" y="1743" text-anchor="middle">95+</text></g>
<text transform="translate(18.9,1458.2) rotate(-90)" text-anchor="middle" font-size="16.9" fill="#000">Number of DALYs</text>
<text transform="translate(1304.9,1458.6) rotate(90)" text-anchor="middle" font-size="16.9" fill="#000">DALYs rate per 100,000 population</text>
<text x="2.6" y="1207.6" font-size="24.2" font-weight="bold" fill="#000">C</text>
<text x="671.3" y="1760.9" text-anchor="middle" font-size="16.6" fill="#000">Age(year)</text>
</svg></body></html>
